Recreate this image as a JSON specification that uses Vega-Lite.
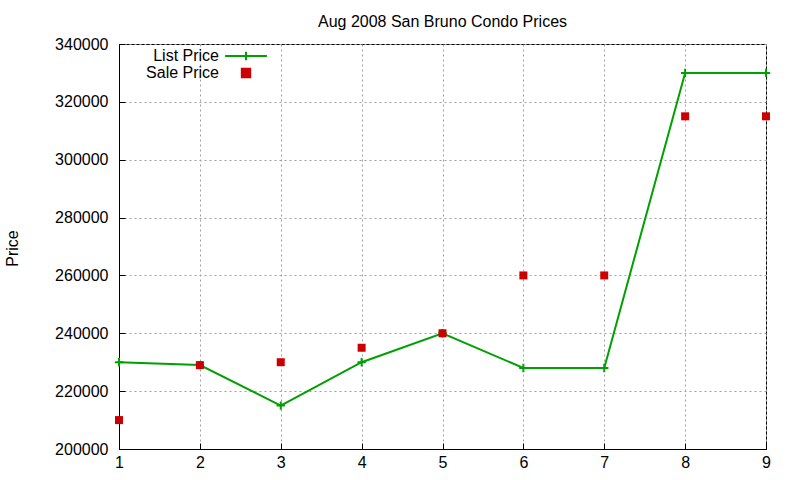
{
  "$schema": "https://vega.github.io/schema/vega-lite/v6.json",
  "autosize": "none",
  "width": 647,
  "height": 405,
  "padding": {"left": 119, "top": 44, "right": 34, "bottom": 31},
  "background": "white",
  "config": {
    "font": "Liberation Sans",
    "view": {"stroke": "black", "strokeWidth": 1},
    "axis": {
      "domain": true,
      "domainColor": "black",
      "domainWidth": 1,
      "grid": true,
      "gridColor": "#a0a0a0",
      "gridDash": [2, 3],
      "gridWidth": 1,
      "tickColor": "black",
      "tickSize": -6,
      "labelFlush": false,
      "labelFont": "Liberation Sans",
      "labelFontSize": 16,
      "labelColor": "black",
      "titleFont": "Liberation Sans",
      "titleFontSize": 16,
      "titleFontWeight": "normal",
      "titleColor": "black"
    }
  },
  "title": {
    "text": "Aug 2008 San Bruno Condo Prices",
    "font": "Liberation Sans",
    "fontSize": 16,
    "fontWeight": "normal",
    "color": "black",
    "anchor": "middle",
    "offset": 6
  },
  "data": {
    "values": [
      {"x": 1, "series": "List Price", "price": 230000},
      {"x": 2, "series": "List Price", "price": 229000},
      {"x": 3, "series": "List Price", "price": 215000},
      {"x": 4, "series": "List Price", "price": 230000},
      {"x": 5, "series": "List Price", "price": 240000},
      {"x": 6, "series": "List Price", "price": 228000},
      {"x": 7, "series": "List Price", "price": 228000},
      {"x": 8, "series": "List Price", "price": 330000},
      {"x": 9, "series": "List Price", "price": 330000},
      {"x": 1, "series": "Sale Price", "price": 210000},
      {"x": 2, "series": "Sale Price", "price": 229000},
      {"x": 3, "series": "Sale Price", "price": 230000},
      {"x": 4, "series": "Sale Price", "price": 235000},
      {"x": 5, "series": "Sale Price", "price": 240000},
      {"x": 6, "series": "Sale Price", "price": 260000},
      {"x": 7, "series": "Sale Price", "price": 260000},
      {"x": 8, "series": "Sale Price", "price": 315000},
      {"x": 9, "series": "Sale Price", "price": 315000}
    ]
  },
  "encoding": {
    "x": {
      "field": "x",
      "type": "quantitative",
      "scale": {"domain": [1, 9], "nice": false, "zero": false},
      "axis": {"title": null, "values": [1, 2, 3, 4, 5, 6, 7, 8, 9], "format": "d", "labelPadding": 11}
    },
    "y": {
      "field": "price",
      "type": "quantitative",
      "scale": {"domain": [200000, 340000], "nice": false, "zero": false},
      "axis": {
        "title": "Price",
        "values": [200000, 220000, 240000, 260000, 280000, 300000, 320000, 340000],
        "format": "d",
        "labelPadding": 17,
        "titleX": -107,
        "titleY": 204,
        "titleAngle": -90,
        "titleBaseline": "middle"
      }
    },
    "color": {
      "field": "series",
      "type": "nominal",
      "scale": {"domain": ["List Price", "Sale Price"], "range": ["#00a000", "#cc0000"]},
      "legend": {
        "title": null,
        "orient": "none",
        "legendX": 119,
        "legendY": 4,
        "labelFont": "Liberation Sans",
        "labelFontSize": 16,
        "labelColor": "black",
        "labelAlign": "right",
        "labelOffset": -35,
        "symbolSize": 70,
        "rowPadding": -1,
        "encode": {
          "symbols": {
            "update": {
              "shape": {"signal": "datum.value == 'List Price' ? 'M-5,0H5M0,-1V1' : 'square'"},
              "strokeWidth": {"value": 2},
              "fill": {"signal": "datum.value == 'List Price' ? 'transparent' : '#cc0000'"},
              "stroke": {"signal": "datum.value == 'List Price' ? '#00a000' : '#cc0000'"}
            }
          }
        }
      }
    }
  },
  "layer": [
    {
      "transform": [{"filter": "datum.series == 'List Price'"}],
      "mark": {"type": "line", "strokeWidth": 2}
    },
    {
      "transform": [{"filter": "datum.series == 'List Price'"}],
      "mark": {"type": "point", "shape": "M-1,0H1M0,-1V1", "filled": false, "strokeWidth": 2, "size": 70, "opacity": 1}
    },
    {
      "transform": [{"filter": "datum.series == 'Sale Price'"}],
      "mark": {"type": "square", "size": 64, "opacity": 1}
    },
    {
      "data": {"values": [{"edge": "top"}]},
      "mark": {"type": "rule", "color": "black", "strokeWidth": 1},
      "encoding": {
        "x": {"datum": 1, "type": "quantitative"},
        "x2": {"datum": 9},
        "y": {"datum": 340000, "type": "quantitative"},
        "color": {"value": "black"}
      }
    },
    {
      "data": {"values": [{"edge": "right"}]},
      "mark": {"type": "rule", "color": "black", "strokeWidth": 1},
      "encoding": {
        "x": {"datum": 9, "type": "quantitative"},
        "y": {"datum": 200000, "type": "quantitative"},
        "y2": {"datum": 340000},
        "color": {"value": "black"}
      }
    }
  ]
}
